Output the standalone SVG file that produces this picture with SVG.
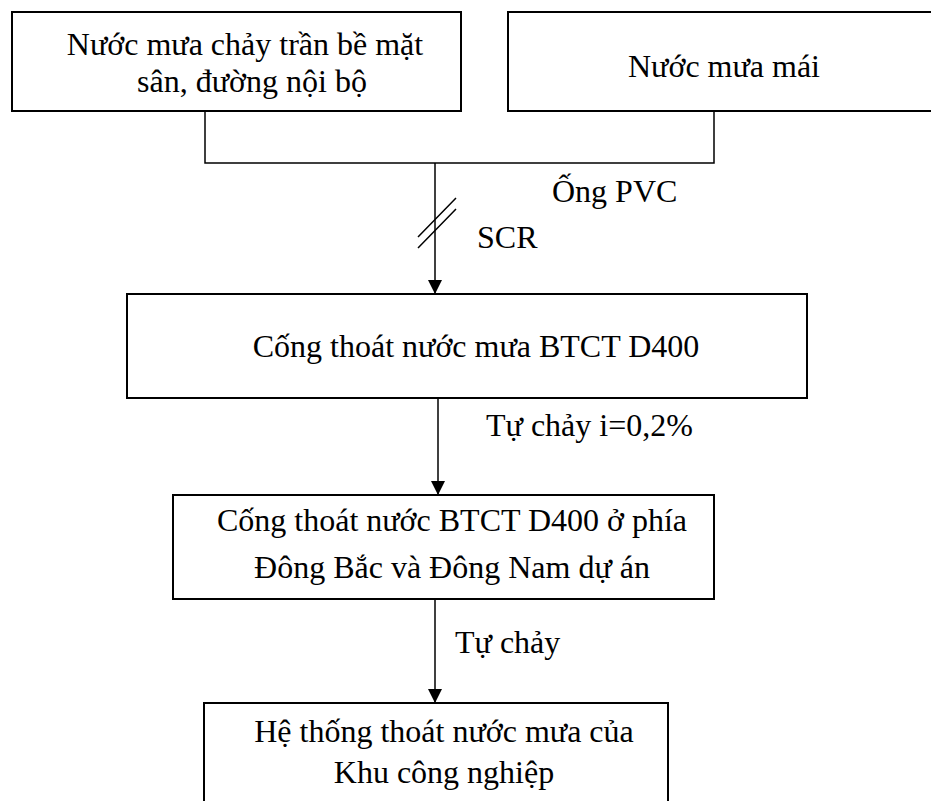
<svg xmlns="http://www.w3.org/2000/svg" width="931" height="801" viewBox="0 0 931 801">
<style>
.box{fill:#fff;stroke:#000;stroke-width:2}
.ln{fill:none;stroke:#000;stroke-width:1.5}
text{font-family:"Liberation Serif","Times New Roman",serif;font-size:32px;fill:#000}
</style>
<defs>
<marker id="ah" markerWidth="14" markerHeight="16" refX="14" refY="8" orient="auto" markerUnits="userSpaceOnUse">
<path d="M0,1 L14,8 L0,15 Z" fill="#000"/>
</marker>
</defs>
<rect width="931" height="801" fill="#fff"/>
<g id="n1"><rect class="box" x="12" y="12" width="449" height="99"/>
<text x="245" y="55" text-anchor="middle">Nước mưa chảy trần bề mặt</text>
<text x="252" y="92" text-anchor="middle">sân, đường nội bộ</text></g>
<g id="n2"><rect class="box" x="508" y="12" width="430" height="99"/>
<text x="724" y="77" text-anchor="middle">Nước mưa mái</text></g>
<g id="n3"><rect class="box" x="127" y="294" width="680" height="104"/>
<text x="476" y="357" text-anchor="middle">Cống thoát nước mưa BTCT D400</text></g>
<g id="n4"><rect class="box" x="173" y="495" width="541" height="104"/>
<text x="452" y="531" text-anchor="middle">Cống thoát nước BTCT D400 ở phía</text>
<text x="452" y="578" text-anchor="middle">Đông Bắc và Đông Nam dự án</text></g>
<g id="n5"><rect class="box" x="204" y="703" width="464" height="120"/>
<text x="444" y="742" text-anchor="middle">Hệ thống thoát nước mưa của</text>
<text x="444" y="783" text-anchor="middle">Khu công nghiệp</text></g>
<g id="connectors">
<path class="ln" d="M205,111 V163 H714 V111"/>
<path class="ln" d="M435,163 V294" marker-end="url(#ah)"/>
<path class="ln" d="M418,237 L456,198 M418,248 L456,209"/>
<path class="ln" d="M438,398 V495" marker-end="url(#ah)"/>
<path class="ln" d="M435,599 V703" marker-end="url(#ah)"/>
<text x="552" y="202">Ống PVC</text>
<text x="477" y="248">SCR</text>
<text x="486" y="436">Tự chảy i=0,2%</text>
<text x="455" y="653">Tự chảy</text>
</g>
</svg>
